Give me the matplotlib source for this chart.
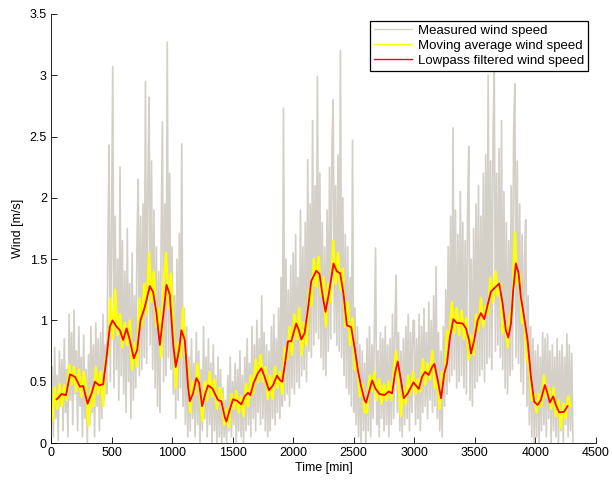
import numpy as np
import matplotlib
matplotlib.use("Agg")
import matplotlib.pyplot as plt

plt.rcParams['font.family'] = ['Liberation Sans', 'DejaVu Sans']

# -----------------------
# measured wind speed, one value every 10 min
# -----------------------
t_meas = np.arange(0, 4320, 10)
v_meas = [
    0.15, 0.62, 0.05, 0.78, 0.20, 0.55, 0.02, 0.75, 0.30, 0.68, 0.10, 0.85, 0.25, 0.60, 0.05, 1.05, 0.35, 0.90, 0.15, 1.08,
    0.40, 0.75, 0.10, 0.95, 0.30, 0.70, 0.05, 0.88, 0.20, 0.60, 0.00, 0.72, 0.15, 0.95, 0.25, 0.80, 0.05, 0.98, 0.30, 0.85,
    0.10, 0.90, 0.20, 1.05, 0.35, 0.80, 0.40, 1.60, 2.43, 0.50, 1.70, 3.07, 0.45, 1.85, 0.60, 1.50, 0.35, 2.25, 0.55, 1.65,
    0.40, 1.40, 0.25, 1.75, 0.50, 1.30, 0.20, 1.55, 0.35, 1.20, 0.45, 1.60, 2.15, 0.55, 1.85, 0.60, 1.95, 0.70, 2.95, 0.65,
    2.10, 2.82, 0.80, 2.30, 0.60, 1.90, 0.45, 1.60, 0.30, 1.40, 0.25, 1.70, 2.62, 0.50, 1.95, 0.55, 3.27, 0.70, 2.20, 0.60,
    1.60, 0.40, 1.20, 0.20, 1.50, 0.35, 1.71, 0.45, 2.44, 0.30, 1.10, 0.15, 0.95, 0.05, 0.70, 0.10, 0.85, 0.20, 0.65, 0.05,
    0.90, 0.15, 0.75, 0.00, 0.60, 0.10, 0.95, 0.20, 0.70, 0.05, 0.85, 0.15, 0.65, 0.00, 0.80, 0.10, 0.55, 0.00, 0.70, 0.05,
    0.60, 0.00, 0.45, 0.05, 0.35, 0.00, 0.55, 0.10, 0.70, 0.05, 0.50, 0.15, 0.65, 0.00, 0.60, 0.10, 0.75, 0.05, 0.55, 0.00,
    0.70, 0.10, 0.85, 0.15, 0.65, 0.05, 0.95, 0.20, 0.80, 0.10, 1.00, 0.25, 0.85, 0.15, 1.20, 0.20, 0.90, 0.10, 0.80, 0.05,
    0.75, 0.10, 0.95, 0.20, 1.05, 0.15, 0.85, 0.25, 1.10, 0.20, 1.35, 0.30, 2.73, 0.35, 1.50, 0.40, 1.25, 0.30, 1.45, 0.45,
    1.55, 0.40, 1.70, 0.50, 1.35, 0.45, 1.90, 0.55, 1.60, 0.60, 1.80, 0.50, 2.31, 0.75, 1.95, 0.70, 2.63, 0.80, 2.10, 0.90,
    2.99, 0.85, 2.20, 0.70, 1.80, 0.60, 1.60, 0.55, 1.90, 0.75, 2.25, 0.85, 2.40, 2.80, 0.90, 2.10, 0.80, 2.35, 0.75, 3.20,
    0.70, 2.00, 0.55, 1.70, 0.45, 1.60, 0.40, 1.35, 0.30, 2.47, 0.25, 1.10, 0.15, 0.95, 0.05, 0.80, 0.00, 0.75, 0.10, 0.65,
    0.00, 0.85, 0.10, 0.95, 0.05, 0.80, 0.20, 0.90, 1.59, 0.15, 0.75, 0.05, 0.90, 0.20, 0.85, 0.10, 0.95, 0.15, 0.80, 0.05,
    0.85, 0.15, 1.05, 0.20, 0.95, 1.37, 0.25, 0.90, 0.10, 0.75, 0.05, 0.85, 0.15, 0.95, 0.20, 1.05, 0.10, 0.90, 0.25, 1.00,
    1.00, 0.15, 0.85, 0.20, 1.05, 0.10, 0.95, 0.25, 1.10, 0.30, 0.90, 0.20, 1.15, 0.35, 1.00, 0.25, 1.20, 0.30, 1.44, 0.20,
    0.90, 0.10, 0.75, 0.05, 0.95, 0.30, 1.25, 0.40, 1.60, 0.50, 1.85, 0.55, 2.57, 0.60, 1.90, 0.45, 1.70, 0.50, 2.05, 0.55,
    1.80, 0.45, 1.65, 0.40, 1.90, 2.42, 0.35, 1.50, 0.30, 1.75, 0.45, 1.95, 0.50, 2.10, 0.55, 1.85, 0.60, 2.20, 0.50, 2.35,
    0.65, 3.00, 0.70, 2.30, 0.60, 2.50, 3.04, 0.75, 2.20, 0.80, 2.40, 0.70, 2.63, 0.60, 2.05, 0.45, 1.80, 0.40, 1.65, 0.55,
    2.10, 0.60, 2.50, 2.93, 0.70, 2.30, 0.65, 1.95, 0.50, 1.70, 0.40, 1.50, 1.82, 0.30, 1.20, 0.15, 0.95, 0.05, 0.85, 0.00,
    0.75, 0.05, 0.80, 0.00, 0.70, 0.10, 0.90, 0.15, 0.85, 0.05, 0.89, 0.20, 0.75, 0.00, 0.80, 0.10, 0.70, 0.05, 0.85, 0.00,
    0.75, 0.10, 0.80, 0.00, 0.70, 0.15, 0.89, 0.05, 0.80, 0.10, 0.73, 0.00,
]

# -----------------------
# moving average, one value every 20 min
# -----------------------
t_mavg = np.arange(10, 4300, 20)
v_mavg = [
    0.18, 0.45, 0.28, 0.48, 0.30, 0.47, 0.35, 0.64, 0.48, 0.62,
    0.42, 0.60, 0.38, 0.58, 0.45, 0.14, 0.45, 0.30, 0.62, 0.40,
    0.58, 0.30, 0.68, 0.72, 1.18, 0.85, 1.25, 0.88, 1.05, 0.78,
    0.98, 0.80, 1.00, 0.60, 0.82, 0.62, 1.18, 0.95, 1.30, 1.05,
    1.55, 1.15, 1.40, 0.95, 1.10, 0.70, 1.30, 1.55, 1.10, 1.38,
    0.95, 0.45, 0.82, 0.70, 1.10, 0.70, 0.62, 0.25, 0.50, 0.40,
    0.65, 0.40, 0.18, 0.50, 0.35, 0.58, 0.38, 0.52, 0.28, 0.45,
    0.40, 0.15, 0.28, 0.13, 0.40, 0.28, 0.42, 0.25, 0.38, 0.22,
    0.48, 0.30, 0.55, 0.40, 0.68, 0.50, 0.72, 0.50, 0.62, 0.36,
    0.55, 0.36, 0.62, 0.45, 0.58, 0.40, 0.78, 0.68, 0.95, 0.72,
    1.05, 0.85, 1.10, 0.72, 0.98, 0.80, 1.25, 1.12, 1.50, 1.28,
    1.52, 1.20, 1.35, 0.95, 1.30, 1.15, 1.65, 1.30, 1.55, 1.25,
    1.42, 0.95, 1.15, 0.80, 1.02, 0.60, 0.65, 0.38, 0.48, 0.25,
    0.25, 0.55, 0.42, 0.58, 0.35, 0.52, 0.32, 0.48, 0.35, 0.50,
    0.35, 0.58, 0.75, 0.48, 0.22, 0.45, 0.32, 0.55, 0.40, 0.58,
    0.40, 0.52, 0.42, 0.68, 0.48, 0.65, 0.52, 0.75, 0.45, 0.50,
    0.28, 0.58, 0.52, 0.92, 0.85, 1.15, 0.90, 1.10, 0.88, 1.08,
    0.85, 1.02, 0.68, 0.88, 0.72, 1.05, 0.92, 1.18, 0.95, 1.12,
    1.05, 1.35, 1.15, 1.40, 1.20, 1.30, 0.90, 0.98, 0.78, 1.05,
    1.10, 1.72, 1.30, 1.38, 0.98, 1.00, 0.68, 0.62, 0.35, 0.40,
    0.25, 0.40, 0.30, 0.55, 0.38, 0.45, 0.28, 0.45, 0.22, 0.35,
    0.12, 0.32, 0.20, 0.38, 0.30,
]

# -----------------------
# lowpass filtered (time [min], speed [m/s])
# -----------------------
t_lp = [47, 88, 124, 157, 198, 239, 266, 302, 335, 363, 398, 431, 459, 486, 508, 541, 569, 596,
        624, 651, 684, 712, 739, 775, 816, 844, 871, 899, 932, 954, 981, 1009, 1030, 1058, 1077,
        1105, 1132, 1146, 1173, 1201, 1223, 1248, 1275, 1297, 1333, 1352, 1380, 1407, 1434, 1448,
        1476, 1503, 1536, 1572, 1599, 1627, 1646, 1674, 1709, 1737, 1764, 1800, 1833, 1866, 1893,
        1910, 1937, 1957, 1984, 2025, 2047, 2067, 2094, 2121, 2149, 2190, 2217, 2245, 2267, 2300,
        2333, 2360, 2388, 2415, 2443, 2479, 2506, 2534, 2561, 2589, 2602, 2630, 2652, 2679, 2712,
        2753, 2789, 2817, 2841, 2863, 2885, 2913, 2946, 2993, 3037, 3064, 3089, 3119, 3147, 3166,
        3188, 3221, 3248, 3270, 3295, 3323, 3350, 3399, 3427, 3454, 3468, 3495, 3523, 3550, 3578,
        3605, 3633, 3674, 3701, 3729, 3756, 3776, 3798, 3817, 3839, 3861, 3880, 3908, 3935, 3963,
        3990, 4018, 4045, 4078, 4100, 4119, 4147, 4169, 4196, 4237, 4265]
v_lp = [0.356, 0.40, 0.39, 0.56, 0.54, 0.46, 0.465, 0.32, 0.405, 0.50, 0.47, 0.48, 0.70, 0.95, 1.0, 0.95, 0.92, 0.84,
        0.935, 0.84, 0.69, 0.76, 1.0, 1.11, 1.28, 1.23, 1.06, 0.80, 1.085, 1.29, 1.21, 0.81, 0.62, 0.76, 0.92,
        0.84, 0.46, 0.34, 0.405, 0.53, 0.49, 0.30, 0.405, 0.47, 0.445, 0.405, 0.35, 0.34, 0.215, 0.175,
        0.27, 0.356, 0.345, 0.315, 0.38, 0.41, 0.39, 0.49, 0.57, 0.61, 0.54, 0.43, 0.47, 0.55, 0.51,
        0.50, 0.68, 0.83, 0.83, 0.975, 0.92, 0.845, 0.895, 1.085, 1.32, 1.405, 1.38, 1.19, 1.07, 1.25,
        1.465, 1.40, 1.385, 1.22, 0.96, 0.945, 0.785, 0.595, 0.46, 0.35, 0.33, 0.43, 0.51, 0.445, 0.40,
        0.39, 0.42, 0.405, 0.57, 0.665, 0.54, 0.365, 0.405, 0.495, 0.44, 0.54, 0.58, 0.555, 0.62, 0.645,
        0.54, 0.365, 0.57, 0.65, 0.867, 1.01, 0.98, 0.975, 0.935, 0.83, 0.73, 0.84, 1.0, 1.06, 1.01,
        1.125, 1.235, 1.275, 1.30, 1.14, 0.92, 0.86, 0.975, 1.25, 1.465, 1.385, 1.19, 1.02, 0.84, 0.54,
        0.337, 0.31, 0.35, 0.473, 0.405, 0.33, 0.38, 0.31, 0.25, 0.255, 0.30]

# -----------------------
# plot
# -----------------------
fig = plt.figure(figsize=(6.12, 4.82), dpi=100)
ax = fig.add_axes([0.0833, 0.0809, 0.8905, 0.8901])

ax.plot(t_meas, v_meas, color='#d4d0c8', lw=1.25, label='Measured wind speed')
ax.plot(t_mavg, v_mavg, color='#ffff00', lw=1.8, label='Moving average wind speed')
ax.plot(t_lp, v_lp, color='#ff0000', lw=1.3, label='Lowpass filtered wind speed')

ax.set_xlim(0, 4500)
ax.set_ylim(0, 3.5)
ax.set_xticks(np.arange(0, 4501, 500))
ax.set_yticks(np.arange(0, 3.51, 0.5))
ax.set_yticklabels(['0', '0.5', '1', '1.5', '2', '2.5', '3', '3.5'])
ax.set_xlabel('Time [min]', fontsize=9, labelpad=2)
ax.set_ylabel('Wind [m/s]', fontsize=9, labelpad=4)

for s in ['top', 'right']:
    ax.spines[s].set_visible(False)
ax.tick_params(direction='in', labelsize=9, length=4, width=0.6, pad=3)
ax.spines['left'].set_linewidth(0.6)
ax.spines['bottom'].set_linewidth(0.6)

leg = ax.legend(loc='upper right', bbox_to_anchor=(0.99, 0.99), fontsize=9.5,
                fancybox=False, framealpha=1, edgecolor='black',
                handlelength=2.9, borderpad=0.3, labelspacing=0.2, handletextpad=0.4,
                borderaxespad=0.2)
leg.get_frame().set_linewidth(0.9)
for ln in leg.get_lines():
    ln.set_linewidth(1.0)

fig.savefig('out.png', dpi=100)
